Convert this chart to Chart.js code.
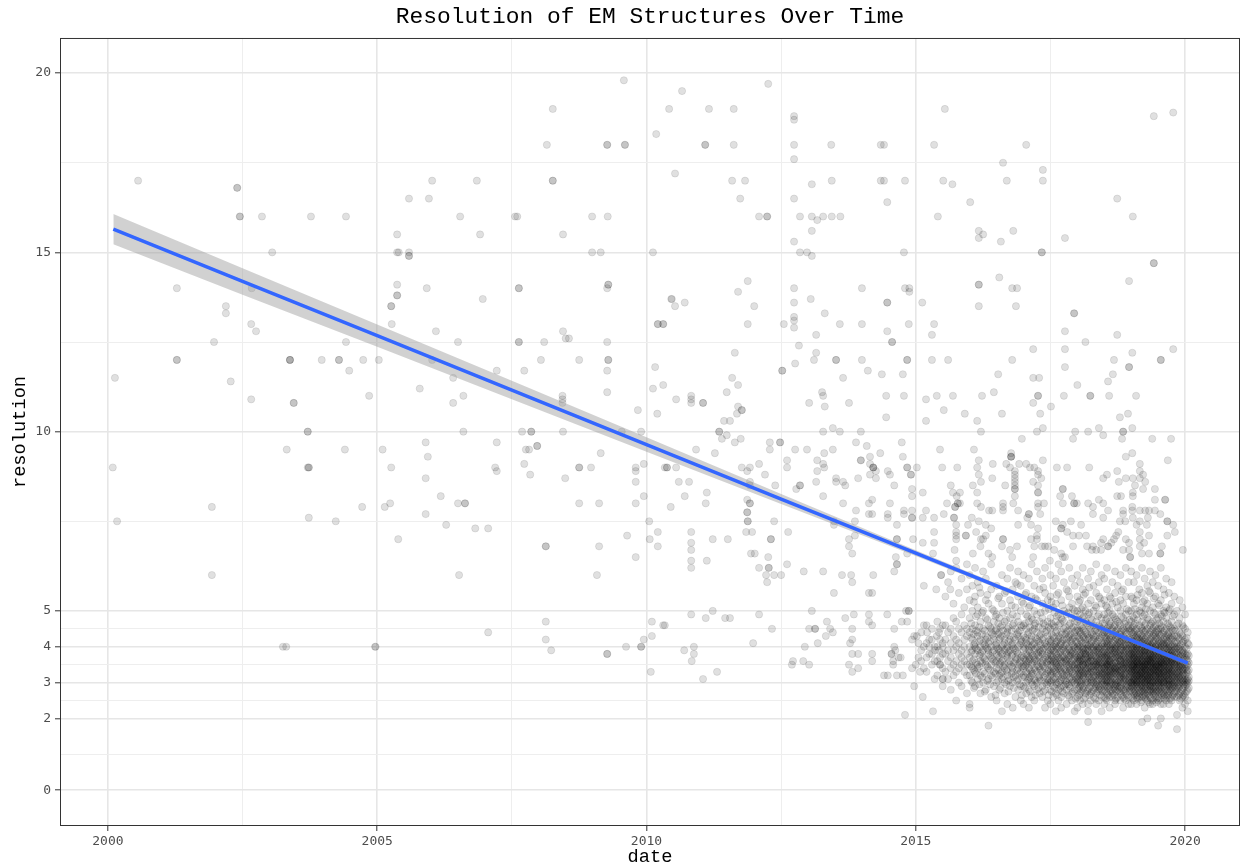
<!DOCTYPE html>
<html>
<head>
<meta charset="utf-8">
<title>Resolution of EM Structures Over Time</title>
<script src="https://cdn.jsdelivr.net/npm/chart.js@4.4.1/dist/chart.umd.min.js"></script>
<style>
  html, body { margin: 0; padding: 0; background: #fff; }
  #wrap { width: 1241px; height: 866px; }
</style>
</head>
<body>
<div id="wrap"><canvas id="emChart" width="1241" height="866"></canvas></div>
<script>
// axis breaks (ggplot style major + minor)
const xMajorTicks = [2000, 2005, 2010, 2015, 2020];
const xMinorTicks = [2002.5, 2007.5, 2012.5, 2017.5];
const yMajorTicks = [0, 2, 3, 4, 5, 10, 15, 20];
const yMinorTicks = [1, 2.5, 3.5, 4.5, 7.5, 12.5, 17.5];

// linear fit + confidence band
const fitDates = [2000.1, 2002.5, 2005, 2007.5, 2010, 2012.5, 2015, 2017.5, 2020.05];
const fitValues = [15.65, 14.19, 12.68, 11.16, 9.64, 8.12, 6.61, 5.09, 3.54];
const fitUpper = [16.07, 14.56, 12.99, 11.42, 9.84, 8.26, 6.69, 5.14, 3.61];
const fitLower = [15.23, 13.82, 12.37, 10.90, 9.44, 7.98, 6.53, 5.04, 3.47];

// structures 2000-2010: [date, resolution]
const earlyStructures = [
  [2000.09,9.0],[2000.13,11.5],[2000.17,7.5],[2000.56,17.0],[2001.28,14.0],[2001.28,12.0],[2001.28,12.0],
  [2001.93,7.9],[2001.93,6.0],[2001.97,12.5],[2002.19,13.5],[2002.19,13.3],[2002.28,11.4],[2002.40,16.8],
  [2002.40,16.8],[2002.45,16.0],[2002.45,16.0],[2002.66,13.0],[2002.66,10.9],[2002.67,14.0],[2002.75,12.8],
  [2002.86,16.0],[2003.05,15.0],[2003.25,4.0],[2003.31,4.0],[2003.38,12.0],[2003.38,12.0],[2003.38,12.0],
  [2003.32,9.5],[2003.45,10.8],[2003.45,10.8],[2003.71,10.0],[2003.71,10.0],[2003.71,9.0],[2003.73,9.0],
  [2003.73,9.0],[2003.73,7.6],[2003.77,16.0],[2003.97,12.0],[2004.29,12.0],[2004.29,12.0],[2004.48,11.7],
  [2004.42,16.0],[2004.40,9.5],[2004.23,7.5],[2004.42,12.5],[2004.72,7.9],[2004.74,12.0],[2004.85,11.0],
  [2004.96,4.0],[2005.03,12.0],
  [2005.37,15.0],[2005.40,15.0],[2005.59,15.0],[2005.59,14.9],[2005.59,14.9],[2005.37,15.5],[2005.37,14.1],
  [2005.37,13.8],[2005.37,13.8],[2005.59,16.5],[2005.96,16.5],[2005.92,14.0],[2006.02,17.0],[2006.85,17.0],
  [2006.54,16.0],[2006.91,15.5],[2006.96,13.7],[2007.56,16.0],[2007.60,16.0],[2007.63,14.0],[2007.63,14.0],
  [2008.26,19.0],[2008.15,18.0],[2008.26,17.0],[2008.26,17.0],[2008.45,15.5],[2008.99,16.0],[2008.99,15.0],
  [2009.15,15.0],[2009.27,18.0],[2009.27,18.0],[2009.28,16.0],[2009.29,14.1],[2009.29,14.1],[2009.27,14.0],
  [2009.58,19.8],[2009.60,18.0],[2009.60,18.0],[2010.12,15.0],[2010.18,18.3],
  [2005.26,13.5],[2005.26,13.5],[2005.27,13.0],[2006.09,12.8],[2006.50,12.5],[2007.63,12.5],[2007.63,12.5],
  [2008.10,12.5],[2008.45,12.8],[2008.50,12.6],[2008.56,12.6],[2009.27,12.5],[2009.29,12.0],[2009.29,12.0],
  [2006.02,12.0],[2008.04,12.0],[2008.75,12.0],[2007.22,11.7],[2007.73,11.7],[2009.27,11.7],[2010.16,11.8],
  [2006.41,11.5],[2005.79,11.2],[2009.27,11.1],[2010.12,11.2],[2006.60,11.0],[2006.41,10.8],[2008.44,11.0],
  [2008.44,10.9],[2008.44,10.8],[2009.84,10.6],[2010.20,10.5],[2006.60,10.0],[2007.69,10.0],[2007.86,10.0],
  [2007.86,10.0],[2008.45,10.0],[2009.54,10.0],[2009.90,10.0],[2005.10,9.5],[2005.90,9.7],[2007.22,9.7],
  [2007.76,9.5],[2007.82,9.5],[2007.97,9.6],[2007.97,9.6],[2005.94,9.3],[2009.15,9.4],[2005.26,9.0],
  [2007.19,9.0],[2007.22,8.9],[2007.73,9.1],[2008.75,9.0],[2008.75,9.0],[2008.97,9.0],[2009.80,9.0],
  [2009.80,8.9],[2009.95,9.1],[2007.84,8.8],[2005.90,8.7],[2008.49,8.7],[2009.80,8.6],[2006.18,8.2],
  [2009.95,8.2],[2005.24,8.0],[2006.50,8.0],[2006.63,8.0],[2006.63,8.0],[2008.75,8.0],[2009.12,8.0],
  [2009.80,8.0],[2005.14,7.9],[2005.90,7.7],[2010.05,7.5],[2006.28,7.4],[2006.82,7.3],[2007.06,7.3],
  [2005.39,7.0],[2009.64,7.1],[2010.06,7.0],[2008.13,6.8],[2008.13,6.8],[2009.12,6.8],[2009.80,6.5],
  [2010.21,7.2],[2010.21,6.8],[2010.21,13.0],[2010.21,13.0],
  [2004.97,4.0],[2006.52,6.0],[2009.08,6.0],[2007.06,4.4],[2008.13,4.7],[2008.13,4.2],[2008.23,3.9],
  [2009.27,3.8],[2009.27,3.8],[2009.62,4.0],[2009.90,4.0],[2009.90,4.0],[2009.95,4.2],[2010.10,4.7],
  [2010.10,4.3],[2010.08,3.3]
];

// structures 2010-2015.8: [date, resolution]
const middleStructures = [
  [2012.26,19.7],[2010.66,19.5],[2010.42,19.0],[2011.16,19.0],[2011.62,19.0],[2015.54,19.0],[2012.74,18.8],
  [2012.74,18.7],[2011.09,18.0],[2011.09,18.0],[2011.62,18.0],[2012.74,18.0],[2013.43,18.0],[2014.35,18.0],
  [2014.41,18.0],[2015.34,18.0],[2012.74,17.6],[2010.53,17.2],[2011.59,17.0],[2011.83,17.0],[2013.07,16.9],
  [2013.44,17.0],[2014.35,17.0],[2014.41,17.0],[2014.80,17.0],[2015.51,17.0],[2015.68,16.9],[2011.74,16.5],
  [2012.74,16.5],[2014.47,16.4],[2012.09,16.0],[2012.24,16.0],[2012.24,16.0],[2012.85,16.0],[2013.07,16.0],
  [2013.17,15.9],[2013.28,16.0],[2013.44,16.0],[2013.60,16.0],[2015.41,16.0],[2013.07,15.6],[2012.74,15.3],
  [2012.85,15.0],[2012.98,15.0],[2013.07,14.9],[2014.78,15.0],[2011.88,14.2],[2011.70,13.9],[2012.74,14.0],
  [2014.00,14.0],[2014.80,14.0],[2014.88,14.0],[2014.88,13.9],[2010.46,13.7],[2013.05,13.7],
  [2010.47,13.7],[2010.53,13.5],[2010.71,13.6],[2012.00,13.5],[2012.74,13.6],[2014.47,13.6],[2014.47,13.6],
  [2015.12,13.6],[2010.31,13.0],[2010.31,13.0],[2011.88,13.0],[2012.55,13.0],[2012.74,13.2],[2012.74,13.1],
  [2012.74,12.9],[2013.31,13.3],[2013.59,13.0],[2014.00,13.0],[2014.47,12.8],[2014.56,12.5],[2014.56,12.5],
  [2014.87,13.0],[2015.30,12.7],[2015.34,13.0],[2013.15,12.7],[2012.83,12.4],[2011.64,12.2],[2013.15,12.2],
  [2013.11,12.0],[2013.52,12.0],[2013.52,12.0],[2014.00,12.0],[2014.84,12.0],[2014.84,12.0],[2015.30,12.0],
  [2015.60,12.0],[2012.52,11.7],[2012.52,11.7],[2012.76,11.9],[2014.11,11.7],[2014.37,11.6],[2014.76,11.6],
  [2013.65,11.5],[2011.59,11.5],[2011.70,11.3],[2010.31,11.3],[2011.49,11.1],[2013.26,11.1],[2013.28,11.0],
  [2014.45,11.0],[2014.78,11.0],[2015.19,10.9],[2015.39,11.0],[2015.69,11.0],[2010.55,10.9],[2010.83,11.0],
  [2010.83,10.9],[2010.83,10.8],[2011.05,10.8],[2011.05,10.8],[2013.02,10.8],[2013.31,10.7],[2013.76,10.8],
  [2011.70,10.7],[2011.77,10.6],[2011.77,10.6],[2011.68,10.5],[2015.52,10.6],[2014.45,10.4],[2011.44,10.3],
  [2011.55,10.3],[2015.19,10.3],[2011.35,10.0],[2011.35,10.0],[2011.49,9.9],[2011.40,9.8],[2011.75,9.8],
  [2011.64,9.7],[2013.28,10.0],[2013.46,10.1],[2013.59,10.0],[2013.98,10.0],[2012.29,9.7],[2012.29,9.5],
  [2012.48,9.7],[2012.48,9.7],[2012.76,9.5],[2012.98,9.5],[2013.30,9.4],[2013.46,9.5],[2013.89,9.7],
  [2014.09,9.6],[2014.34,9.4],[2014.74,9.7],[2014.76,9.3],[2015.45,9.5],[2010.92,9.5],[2011.27,9.4],
  [2014.15,9.3],[2012.61,9.2],[2012.61,9.0],[2013.17,9.2],[2013.17,8.9],[2013.28,9.1],[2013.30,9.0],
  [2012.09,9.1],[2011.77,9.0],[2011.92,9.0],[2011.87,8.9],[2010.34,9.0],[2010.38,9.0],[2010.38,9.0],
  [2010.55,9.0],[2013.98,9.2],[2013.98,9.2],[2014.21,9.0],[2014.21,9.0],[2014.21,9.0],[2014.15,9.1],
  [2014.15,8.8],[2014.26,8.9],[2014.26,8.7],[2014.48,8.9],[2014.52,8.8],[2014.84,9.0],[2014.84,9.0],
  [2014.91,8.8],[2014.91,8.8],[2015.02,9.0],[2015.49,9.0],[2015.77,9.0],[2012.20,8.8],[2013.52,8.7],
  [2013.52,8.6],[2013.65,8.6],[2013.69,8.5],[2013.15,8.6],[2013.93,8.7],[2010.60,8.6],[2010.79,8.6],
  [2011.92,8.6],[2011.92,8.5],[2012.39,8.5],[2012.85,8.5],[2012.85,8.5],[2012.78,8.4],[2014.60,8.5],
  [2014.93,8.4],[2014.93,8.2],[2015.65,8.5],[2011.12,8.3],[2011.10,8.0],[2010.71,8.2],[2013.28,8.2],
  [2015.13,8.3],[2015.69,8.3],[2015.76,8.2],[2015.78,8.0],[2015.78,8.0],[2011.87,8.1],[2011.92,8.0],
  [2011.92,8.0],[2011.87,7.75],[2011.87,7.75],[2011.88,7.5],[2011.88,7.5],[2011.85,7.2],[2011.96,7.2],
  [2010.45,7.9],[2013.65,8.0],[2014.13,8.0],[2014.19,8.1],[2014.52,8.0],[2013.89,7.8],[2014.13,7.7],
  [2014.19,7.7],[2014.48,7.7],[2014.48,7.6],[2014.78,7.7],[2014.78,7.8],[2014.93,7.8],[2014.93,7.6],
  [2014.93,7.6],[2015.19,7.8],[2015.58,8.0],[2015.52,7.7],[2015.73,7.9],[2015.73,7.9],[2015.13,7.6],
  [2015.34,7.6],[2015.71,7.6],[2015.71,7.6],[2015.75,7.4],[2015.75,7.2],[2015.75,7.1],[2012.37,7.5],
  [2013.48,7.5],[2013.48,7.4],[2013.87,7.5],[2014.65,7.4],[2012.63,7.2],[2010.83,7.2],[2010.83,6.9],
  [2010.83,6.7],[2010.83,6.4],[2011.23,7.0],[2011.51,7.0],[2012.31,7.0],[2012.31,7.0],[2013.76,7.0],
  [2013.76,6.8],[2013.82,6.6],[2013.87,7.1],[2014.65,7.0],[2014.65,7.0],[2014.95,7.0],[2015.13,6.9],
  [2015.34,7.2],[2015.34,6.9],[2015.75,7.0],[2015.72,6.7],[2011.94,6.6],[2012.01,6.6],[2012.26,6.5],
  [2011.12,6.4],[2014.63,6.5],[2014.84,6.6],[2015.32,6.6],[2015.75,6.4],
  [2010.83,6.2],[2012.09,6.2],[2012.27,6.2],[2012.27,6.2],[2012.22,6.0],[2012.24,5.8],[2012.37,6.0],
  [2012.50,6.0],[2012.61,6.3],[2012.92,6.1],[2013.28,6.1],[2013.63,6.0],[2013.80,6.0],[2013.82,5.8],
  [2014.21,6.0],[2014.60,6.1],[2014.65,6.3],[2014.65,6.3],[2013.48,5.5],[2014.13,5.5],[2014.19,5.5],
  [2015.15,5.7],[2015.38,5.6],[2015.47,6.0],[2015.47,6.0],[2015.64,5.6],[2010.34,4.6],[2010.31,4.6],
  [2010.83,4.9],[2011.23,5.0],[2011.10,4.8],[2011.46,4.8],[2011.55,4.8],[2012.09,4.9],[2012.33,4.5],
  [2013.07,5.0],[2013.02,4.5],[2013.13,4.5],[2013.13,4.5],[2013.35,4.7],[2013.41,4.5],[2013.46,4.4],
  [2013.33,4.3],[2013.69,4.8],[2013.85,4.9],[2013.82,4.5],[2014.13,4.9],[2014.13,4.7],[2014.19,4.6],
  [2014.47,4.9],[2014.60,4.5],[2014.74,4.7],[2014.84,4.7],[2014.82,5.0],[2014.87,5.0],[2014.87,5.0],
  [2011.98,4.1],[2013.18,4.1],[2013.78,4.1],[2013.82,4.2],[2010.70,3.9],[2010.88,4.0],[2010.88,3.8],
  [2010.84,3.6],[2012.94,4.0],[2012.72,3.6],[2012.70,3.5],[2012.91,3.6],[2013.02,3.5],[2011.31,3.3],
  [2011.05,3.1],[2013.82,3.8],[2013.93,3.8],[2013.76,3.5],[2013.82,3.3],[2013.93,3.4],[2014.19,3.8],
  [2014.19,3.6],[2014.41,3.2],[2014.48,3.2],[2014.55,3.8],[2014.55,3.8],[2014.60,4.0],[2014.62,3.9],
  [2014.58,3.6],[2014.68,3.7],[2014.72,3.7],[2014.58,3.5],[2014.65,3.2],[2014.76,3.2],[2014.80,2.1],
  [2014.97,2.9],[2015.13,2.6],[2015.32,2.2],[2014.93,3.4],[2015.00,3.5],[2015.08,3.3],[2014.97,4.3],
  [2015.02,4.3],[2014.93,4.2],[2015.21,4.4],[2015.25,4.0],[2015.39,4.3],[2015.43,4.4],[2015.45,3.5],
  [2015.45,3.5],[2015.50,3.1],[2015.50,3.1],[2015.50,2.9],[2015.36,3.9],[2015.43,3.9],[2015.50,4.1]
];

// structures 2015.8-2020 above ~6.4 A: [date, resolution]
const recentLowRes = [
  [2019.42,18.8],[2019.78,18.9],[2017.05,18.0],[2016.62,17.5],[2017.36,17.3],[2016.69,17.0],[2017.36,17.0],
  [2016.01,16.4],[2018.74,16.5],[2019.03,16.0],[2016.17,15.6],[2016.25,15.5],[2016.17,15.4],[2016.81,15.6],
  [2016.58,15.3],[2017.77,15.4],[2017.34,15.0],[2017.34,15.0],[2019.42,14.7],[2019.42,14.7],[2016.55,14.3],
  [2016.17,14.1],[2016.17,14.1],[2016.79,14.0],[2016.88,14.0],[2018.96,14.2],
  [2016.17,13.5],[2016.86,13.5],[2017.94,13.3],[2017.94,13.3],[2017.77,12.8],[2018.74,12.7],[2018.15,12.5],
  [2017.18,12.3],[2017.77,12.3],[2019.78,12.3],[2016.79,12.0],[2018.68,12.0],[2019.02,12.2],[2019.55,12.0],
  [2019.55,12.0],[2018.96,11.8],[2018.96,11.8],[2017.77,11.8],[2018.66,11.6],[2018.57,11.4],[2016.53,11.6],
  [2017.18,11.5],[2017.29,11.5],[2018.00,11.3],[2016.23,11.0],[2016.45,11.1],[2017.27,11.0],[2017.27,11.0],
  [2017.75,11.0],[2018.24,11.0],[2018.24,11.0],[2018.59,11.0],[2019.09,11.0],[2017.18,10.8],[2017.31,10.5],
  [2017.51,10.7],[2015.91,10.5],[2016.60,10.5],[2016.14,10.3],[2018.79,10.4],[2018.94,10.5],[2016.21,10.0],
  [2017.36,10.1],[2017.25,10.0],[2017.96,10.0],[2017.92,9.8],[2018.20,10.0],[2018.40,10.1],[2018.48,9.9],
  [2018.85,10.0],[2018.85,10.0],[2018.83,9.8],[2019.02,10.1],[2019.39,9.8],[2019.74,9.8],[2016.97,9.8],
  [2016.08,9.5],[2016.77,9.3],[2016.77,9.3],[2016.77,9.3],[2016.17,9.2],[2016.77,9.4],[2018.90,9.3],
  [2019.02,9.4],[2019.68,9.2],[2017.36,9.2],[2016.43,9.1],[2016.68,9.1],[2016.75,9.0],[2016.92,9.1],
  [2017.05,9.1],[2017.12,9.0],[2017.20,9.0],[2016.14,9.0],[2017.62,9.0],[2017.81,9.0],[2018.22,9.0],
  [2019.16,9.1],[2018.74,8.9],[2018.55,8.8],[2018.48,8.7],[2019.16,8.9],[2019.22,8.8],[2019.16,8.7],
  [2019.26,8.6],[2016.84,8.9],[2016.84,8.8],[2016.84,8.7],[2016.84,8.6],[2016.84,8.5],[2016.84,8.4],
  [2016.84,8.4],[2017.27,8.9],[2017.27,8.8],[2017.33,8.7],[2017.18,8.6],[2017.27,8.5],[2017.27,8.3],
  [2017.27,8.3],[2016.42,8.7],[2016.17,8.8],[2016.21,8.6],[2016.66,8.5],[2016.06,8.5],[2015.82,8.3],
  [2018.90,8.7],[2019.03,8.7],[2019.07,8.5],[2019.03,8.3],[2019.03,8.2],[2018.77,8.6],[2019.22,8.4],
  [2019.44,8.4],[2019.44,8.1],[2019.63,8.1],[2019.63,8.1],[2016.14,8.3],[2016.84,8.2],[2016.81,8.0],
  [2016.90,7.8],[2016.62,8.0],[2016.62,7.9],[2016.62,7.8],[2017.27,8.0],[2017.27,7.9],[2017.31,7.7],
  [2017.38,8.0],[2017.73,8.4],[2017.73,8.4],[2017.68,8.2],[2017.73,8.0],[2017.90,8.2],[2017.94,8.0],
  [2017.94,8.0],[2017.99,8.0],[2018.20,8.0],[2018.29,7.9],[2018.29,7.7],[2018.40,8.1],[2018.48,8.0],
  [2018.74,8.2],[2018.81,8.2],[2015.82,8.0],[2016.14,8.0],[2016.21,7.9],[2016.36,7.8],[2016.42,7.8],
  [2017.10,7.7],[2017.10,7.7],[2017.07,7.6],[2016.04,7.6],[2016.17,7.5],[2018.57,7.8],[2018.48,7.6],
  [2018.85,7.8],[2018.85,7.7],[2019.02,7.9],[2019.02,7.8],[2018.79,7.5],[2018.89,7.5],[2019.16,7.8],
  [2019.26,7.8],[2019.33,7.8],[2019.44,7.8],[2019.54,7.7],[2019.67,7.5],[2019.67,7.5],[2019.78,7.4],
  [2019.03,7.6],[2019.16,7.5],[2019.10,7.4],[2019.16,7.2],[2019.31,7.6],[2019.29,7.4],[2019.33,7.1],
  [2017.60,7.5],[2017.88,7.5],[2016.90,7.4],[2017.14,7.4],[2017.70,7.3],[2017.70,7.3],[2017.81,7.2],
  [2017.92,7.1],[2018.03,7.1],[2018.16,7.1],[2017.73,7.4],[2018.07,7.4],[2017.27,7.3],[2017.25,7.1],
  [2017.25,7.0],[2015.97,7.4],[2016.30,7.4],[2016.40,7.3],[2016.12,7.2],[2016.25,7.0],[2016.30,7.1],
  [2016.21,7.0],[2015.93,7.1],[2015.93,7.1],[2016.62,7.0],[2016.62,7.0],[2016.60,6.8],[2016.88,6.8],
  [2016.75,6.7],[2017.14,7.0],[2017.20,6.8],[2017.34,6.8],[2017.40,6.8],[2017.46,6.8],[2017.60,7.0],
  [2017.57,6.7],[2017.70,6.6],[2017.73,6.5],[2017.77,6.5],[2018.76,7.2],[2018.72,7.1],[2018.68,7.0],
  [2018.63,6.9],[2018.57,6.8],[2018.57,6.8],[2018.48,7.0],[2018.44,6.9],[2018.90,7.0],[2018.96,6.9],
  [2018.96,6.7],[2019.16,7.0],[2019.16,6.8],[2019.24,6.9],[2019.67,7.1],[2019.81,7.2],[2019.57,6.8],
  [2019.96,6.7],[2018.18,6.8],[2018.29,6.8],[2018.35,6.7],[2018.27,6.7],[2017.92,6.8],[2018.44,6.7],
  [2018.85,6.7],[2018.98,6.5],[2018.98,6.5],[2019.20,6.6],[2019.33,6.6],[2019.54,6.6],[2019.54,6.6],
  [2016.20,6.8],[2016.35,6.6],[2016.42,6.5],[2016.06,6.6],[2016.79,6.5],[2017.18,6.5],[2017.49,6.4]
];

// release-date columns of the crowded 2015-2020 region: [date, resolutions...]
const crowdedColumns = [
  [2015.05,3.7,4.1],[2015.10,3.6,3.9,4.4],[2015.15,3.4,4.0,4.6],[2015.20,3.3,3.7,4.1,4.6],[2015.25,3.8,4.2],
  [2015.30,3.5,3.8,4.2,4.5],[2015.35,3.1,3.6,4.0],[2015.40,3.2,3.6,4.0,4.7],[2015.45,3.7,4.2,4.5],
  [2015.50,3.4,3.8,4.0,4.6],[2015.55,3.3,3.8,4.2,4.6,5.4],[2015.60,3.1,3.6,3.9,4.4,5.8],
  [2015.65,2.8,3.4,3.7,4.1,4.5,6.1],[2015.70,3.2,3.5,3.9,4.3,4.8,5.2],[2015.75,2.5,3.3,3.6,4.0,4.2,4.7,6.2],
  [2015.80,3.0,3.4,3.8,4.1,4.5,5.5],[2015.85,2.9,3.5,3.7,3.9,4.4,4.9,5.9],[2015.90,3.3,3.6,4.0,4.2,4.6,5.1],
  [2015.95,2.7,3.2,3.5,3.8,4.3,4.5,5.6,6.3],
  [2016.00,2.4,2.3,3.2,3.5,3.7,4.0,4.4,4.8,5.3,6.0],[2016.05,3.0,3.4,3.6,3.9,4.2,4.5,5.0,5.7],
  [2016.10,2.9,3.3,3.8,4.0,4.1,4.6,5.4,6.2],[2016.15,3.1,3.4,3.5,3.9,4.3,4.4,4.9,5.1,5.8],
  [2016.20,2.7,3.2,3.6,3.8,4.0,4.2,4.7,5.5],[2016.25,3.0,3.3,3.7,3.9,4.1,4.5,5.0,6.1],
  [2016.30,2.8,3.5,3.6,4.0,4.2,4.3,4.8,5.3,5.9],[2016.35,1.8,3.1,3.4,3.8,3.9,4.1,4.6,5.2],
  [2016.40,2.6,3.2,3.5,3.7,4.0,4.4,4.5,5.6,6.3],[2016.45,2.9,3.3,3.6,3.9,4.2,4.3,4.7,5.0],
  [2016.50,2.5,3.0,3.4,3.6,3.8,4.0,4.1,4.5,4.9,5.7],[2016.55,2.8,3.2,3.5,3.7,3.9,4.2,4.4,4.8,5.4],
  [2016.60,2.2,3.1,3.3,3.6,3.8,4.0,4.3,4.6,5.2,6.0],[2016.65,2.7,3.0,3.4,3.5,3.9,4.1,4.2,4.7,5.5],
  [2016.70,2.4,3.2,3.3,3.7,3.8,4.0,4.4,4.5,5.0,5.9],[2016.75,2.9,3.1,3.5,3.6,3.9,4.2,4.3,4.8,5.3,6.2],
  [2016.80,2.3,3.0,3.3,3.4,3.8,4.0,4.1,4.6,4.9,5.6],[2016.85,2.6,3.2,3.6,3.7,3.9,4.2,4.5,5.1,5.8],
  [2016.90,2.8,3.1,3.4,3.5,3.8,4.0,4.3,4.4,4.7,5.4,6.1],[2016.95,2.5,2.9,3.3,3.6,3.7,4.1,4.2,4.6,5.0,5.7],
  [2017.00,2.4,2.9,3.2,3.4,3.5,3.7,3.9,4.0,4.3,4.6,5.2,6.0],[2017.05,2.7,3.0,3.3,3.5,3.6,3.8,4.1,4.2,4.5,4.9,5.5],
  [2017.10,2.3,2.8,3.1,3.4,3.6,3.7,3.9,4.0,4.4,4.7,5.1,5.9],[2017.15,2.6,3.0,3.2,3.3,3.5,3.8,4.0,4.2,4.3,4.8,5.4,6.3],
  [2017.20,2.5,2.9,3.1,3.4,3.6,3.7,3.9,4.1,4.5,4.6,5.0,5.7],[2017.25,2.8,3.0,3.3,3.5,3.6,3.8,4.0,4.2,4.4,4.9,5.3,6.1],
  [2017.30,2.7,3.1,3.2,3.4,3.7,3.9,4.1,4.3,4.7,5.6],[2017.35,2.6,2.9,3.3,3.5,3.6,3.8,3.9,4.2,4.5,4.8,5.2,5.9],
  [2017.40,2.3,2.8,3.0,3.2,3.4,3.7,4.0,4.1,4.4,4.6,5.0,5.5,6.2],[2017.45,2.5,3.0,3.1,3.3,3.5,3.6,3.8,4.0,4.3,4.7,5.3],
  [2017.50,2.4,2.8,3.0,3.2,3.3,3.5,3.6,3.8,3.9,4.1,4.2,4.5,4.8,5.4,6.0],
  [2017.55,2.6,2.9,3.1,3.3,3.4,3.6,3.7,3.9,4.0,4.3,4.6,5.1,5.7],
  [2017.60,2.2,2.7,3.0,3.1,3.3,3.5,3.6,3.8,4.0,4.1,4.4,4.7,5.2,5.9],
  [2017.65,2.5,2.8,3.0,3.2,3.4,3.5,3.7,3.8,4.0,4.2,4.3,4.6,4.9,5.5,6.3],
  [2017.70,2.3,2.6,2.9,3.1,3.3,3.4,3.6,3.7,3.9,4.1,4.4,4.8,5.3,6.1],
  [2017.75,2.7,2.9,3.1,3.2,3.4,3.6,3.7,3.9,4.0,4.2,4.5,4.7,5.0,5.8],
  [2017.80,2.4,2.8,3.0,3.2,3.3,3.5,3.6,3.8,4.1,4.2,4.4,4.9,5.6],
  [2017.85,2.6,2.9,3.1,3.3,3.4,3.5,3.7,3.9,4.0,4.3,4.6,5.1,5.4,6.2],
  [2017.90,2.5,2.7,3.0,3.1,3.3,3.5,3.6,3.8,3.9,4.1,4.2,4.5,4.8,5.2,5.9],
  [2017.95,2.2,2.8,3.0,3.2,3.4,3.5,3.7,3.8,4.0,4.3,4.4,4.7,5.0,5.7],
  [2018.00,2.3,2.6,2.8,3.0,3.1,3.2,3.4,3.4,3.5,3.6,3.7,3.9,4.0,4.1,4.3,4.5,4.7,5.0,5.4,6.0],
  [2018.05,2.5,2.7,2.9,3.0,3.2,3.3,3.4,3.6,3.6,3.7,3.8,4.0,4.2,4.4,4.6,4.9,5.3,5.8],
  [2018.10,2.4,2.8,2.9,3.1,3.2,3.3,3.5,3.5,3.6,3.8,3.9,4.0,4.1,4.3,4.5,4.8,5.1,5.6,6.2],
  [2018.15,2.6,2.7,3.0,3.1,3.3,3.4,3.5,3.7,3.8,3.8,3.9,4.1,4.2,4.4,4.7,5.0,5.5],
  [2018.20,1.9,2.2,2.4,2.8,3.0,3.2,3.3,3.4,3.5,3.6,3.7,3.9,4.0,4.2,4.3,4.6,4.9,5.2,5.9],
  [2018.25,2.5,2.7,2.9,3.0,3.1,3.3,3.4,3.6,3.6,3.7,3.8,4.0,4.1,4.4,4.5,4.8,5.3,6.1],
  [2018.30,2.6,2.8,3.0,3.1,3.2,3.3,3.4,3.5,3.6,3.8,3.9,4.0,4.2,4.3,4.6,5.0,5.7],
  [2018.35,2.4,2.7,2.9,3.0,3.2,3.3,3.5,3.5,3.6,3.7,3.9,4.0,4.1,4.3,4.5,4.7,5.1,5.5,6.3],
  [2018.40,2.5,2.8,2.9,3.1,3.2,3.3,3.4,3.5,3.6,3.7,3.8,3.9,4.0,4.2,4.4,4.6,4.9,5.4,5.8],
  [2018.45,2.2,2.6,2.8,3.0,3.1,3.2,3.3,3.4,3.5,3.7,3.8,4.0,4.1,4.3,4.5,4.8,5.2,6.0],
  [2018.50,2.4,2.6,2.8,2.9,3.0,3.1,3.2,3.3,3.4,3.4,3.5,3.6,3.7,3.8,3.9,4.0,4.1,4.3,4.4,4.6,4.9,5.3,5.9],
  [2018.55,2.5,2.7,2.9,3.0,3.1,3.2,3.3,3.5,3.5,3.6,3.7,3.8,4.0,4.1,4.2,4.4,4.5,4.8,5.1,5.6,6.2],
  [2018.60,2.3,2.6,2.8,2.9,3.0,3.2,3.3,3.4,3.5,3.6,3.6,3.8,3.9,4.0,4.2,4.3,4.6,4.7,5.0,5.4],
  [2018.65,2.6,2.7,2.8,3.0,3.1,3.2,3.3,3.4,3.5,3.7,3.8,3.9,4.0,4.1,4.3,4.5,4.9,5.2,5.8],
  [2018.70,2.4,2.5,2.8,2.9,3.0,3.1,3.3,3.4,3.4,3.6,3.7,3.8,3.9,4.0,4.2,4.4,4.6,4.8,5.5,6.1],
  [2018.75,2.6,2.8,2.9,3.0,3.2,3.3,3.4,3.5,3.6,3.7,3.8,4.0,4.1,4.2,4.3,4.5,4.7,5.1,5.7],
  [2018.80,2.5,2.7,2.9,3.0,3.1,3.2,3.3,3.5,3.6,3.6,3.8,3.9,4.0,4.1,4.4,4.6,5.0,5.3,6.0],
  [2018.85,2.3,2.6,2.8,3.0,3.1,3.2,3.4,3.4,3.5,3.7,3.8,3.9,4.0,4.2,4.3,4.5,4.8,5.2,5.6],
  [2018.90,2.5,2.7,2.8,2.9,3.1,3.2,3.3,3.4,3.5,3.6,3.7,3.9,4.0,4.1,4.2,4.4,4.7,4.9,5.4,6.2],
  [2018.95,2.4,2.6,2.9,3.0,3.1,3.3,3.4,3.5,3.6,3.7,3.8,3.9,4.1,4.2,4.5,4.6,5.0,5.8],
  [2019.00,2.4,2.6,2.8,2.9,3.0,3.0,3.1,3.2,3.3,3.3,3.4,3.5,3.5,3.6,3.7,3.8,3.8,3.9,4.0,4.1,4.2,4.4,4.5,4.7,5.0,5.4,6.1],
  [2019.05,2.5,2.7,2.8,2.9,3.0,3.1,3.1,3.2,3.3,3.4,3.5,3.5,3.6,3.7,3.7,3.8,3.9,4.0,4.1,4.3,4.4,4.6,4.8,5.2,5.8],
  [2019.10,2.4,2.6,2.7,2.9,3.0,3.0,3.1,3.2,3.2,3.3,3.4,3.4,3.5,3.6,3.6,3.7,3.8,3.9,4.0,4.0,4.2,4.3,4.5,4.9,5.3,6.0],
  [2019.15,2.6,2.7,2.8,2.9,3.0,3.1,3.2,3.2,3.3,3.4,3.5,3.5,3.6,3.7,3.8,3.8,3.9,4.0,4.1,4.2,4.4,4.6,5.0,5.6],
  [2019.20,1.9,2.5,2.6,2.8,2.9,3.0,3.1,3.1,3.2,3.3,3.3,3.4,3.5,3.6,3.6,3.7,3.8,3.9,4.0,4.1,4.2,4.3,4.5,4.7,5.1,5.5,6.2],
  [2019.25,2.3,2.6,2.7,2.8,2.9,3.0,3.0,3.1,3.2,3.3,3.4,3.4,3.5,3.5,3.6,3.7,3.8,3.9,3.9,4.0,4.2,4.4,4.6,4.9,5.3,5.9],
  [2019.30,2.0,2.5,2.7,2.8,2.9,3.0,3.1,3.1,3.2,3.2,3.3,3.4,3.5,3.5,3.6,3.6,3.7,3.8,3.9,4.0,4.0,4.1,4.3,4.5,4.8,5.2,5.7],
  [2019.35,2.4,2.6,2.8,2.9,2.9,3.0,3.1,3.2,3.3,3.3,3.4,3.5,3.6,3.6,3.7,3.8,3.8,3.9,4.0,4.1,4.2,4.4,4.6,5.0,5.5,6.1],
  [2019.40,2.4,2.5,2.7,2.8,2.9,3.0,3.0,3.1,3.2,3.3,3.4,3.4,3.5,3.6,3.7,3.7,3.8,3.9,4.0,4.1,4.3,4.5,4.7,5.1,5.8],
  [2019.45,2.6,2.7,2.8,2.9,3.0,3.1,3.2,3.2,3.3,3.4,3.5,3.5,3.6,3.7,3.8,3.9,4.0,4.0,4.2,4.3,4.4,4.6,4.9,5.4,6.0],
  [2019.50,1.8,2.5,2.6,2.8,2.9,3.0,3.0,3.1,3.2,3.3,3.3,3.4,3.5,3.5,3.6,3.7,3.8,3.9,4.0,4.1,4.2,4.4,4.5,4.8,5.2,5.7],
  [2019.55,2.0,2.4,2.7,2.8,2.9,3.0,3.1,3.1,3.2,3.3,3.4,3.4,3.5,3.6,3.6,3.7,3.8,3.9,4.0,4.1,4.3,4.5,4.6,4.9,5.3,6.2],
  [2019.60,2.4,2.6,2.7,2.9,3.0,3.0,3.1,3.2,3.3,3.3,3.4,3.5,3.5,3.6,3.7,3.8,3.8,4.0,4.1,4.2,4.4,4.7,5.0,5.6],
  [2019.65,2.5,2.6,2.8,2.9,3.0,3.1,3.2,3.2,3.3,3.4,3.5,3.6,3.6,3.7,3.8,3.9,4.0,4.1,4.2,4.3,4.5,4.8,5.1,5.9],
  [2019.70,2.4,2.7,2.8,2.9,3.0,3.1,3.1,3.2,3.3,3.4,3.4,3.5,3.6,3.7,3.8,3.9,4.0,4.1,4.3,4.4,4.6,5.0,5.5],
  [2019.75,2.5,2.6,2.8,2.9,3.0,3.1,3.2,3.3,3.3,3.4,3.5,3.6,3.6,3.7,3.8,3.9,4.0,4.2,4.3,4.5,4.7,5.2,5.8],
  [2019.80,2.6,2.7,2.9,3.0,3.1,3.2,3.3,3.4,3.5,3.5,3.6,3.7,3.8,3.9,4.0,4.1,4.3,4.5,4.9,5.4],
  [2019.85,1.7,2.1,2.6,2.8,2.9,3.0,3.1,3.2,3.3,3.4,3.5,3.6,3.7,3.8,4.0,4.1,4.3,4.6,5.0],
  [2019.90,2.5,2.7,2.9,3.0,3.1,3.2,3.3,3.4,3.5,3.6,3.7,3.9,4.0,4.2,4.4,4.8,5.3],
  [2019.95,2.3,2.6,2.8,3.0,3.1,3.2,3.3,3.4,3.5,3.6,3.8,3.9,4.1,4.3,4.6,5.1],
  [2020.00,2.4,2.6,2.7,2.9,3.0,3.1,3.2,3.4,3.5,3.7,3.8,4.0,4.2,4.5,4.9],
  [2020.05,2.2,2.5,2.8,3.0,3.1,3.3,3.5,3.6,3.8,4.1,4.4]
];

// second batch of release dates in between, same region
const crowdedColumnsB = [
  [2016.03,3.05,3.45,3.85,4.25,4.65],[2016.08,2.85,3.35,3.65,4.05,4.35,5.25],[2016.12,3.25,3.55,3.95,4.45,4.85],
  [2016.18,2.95,3.45,3.75,4.15,4.55,5.65],[2016.23,3.15,3.55,3.85,4.35,4.95],[2016.28,2.75,3.25,3.65,4.05,4.45],
  [2016.33,3.05,3.45,3.95,4.25,4.75,5.45],[2016.38,2.95,3.35,3.75,4.15,4.55],[2016.42,3.15,3.65,3.85,4.35,5.05],
  [2016.48,2.65,3.25,3.55,4.05,4.45,4.85],[2016.53,3.05,3.35,3.75,3.95,4.35,4.65,5.35],[2016.57,2.85,3.25,3.55,3.85,4.25,4.55],
  [2016.62,3.15,3.45,3.65,4.05,4.45,4.95],[2016.68,2.95,3.35,3.75,3.95,4.35,4.75,5.55],[2016.72,2.75,3.05,3.55,3.85,4.15,4.55],
  [2016.78,3.25,3.45,3.75,4.05,4.45,5.15],[2016.82,2.85,3.15,3.55,3.95,4.25,4.65],[2016.88,3.05,3.35,3.65,3.85,4.35,4.85,5.75],
  [2016.93,2.95,3.25,3.55,4.05,4.45],[2016.97,2.65,3.15,3.45,3.75,4.15,4.55,5.25],
  [2017.03,2.85,3.15,3.45,3.65,3.95,4.25,4.65,5.45],[2017.08,3.05,3.25,3.55,3.75,4.05,4.35,4.85],
  [2017.12,2.75,3.15,3.35,3.65,3.85,4.15,4.55,5.15],[2017.17,2.95,3.25,3.55,3.75,4.05,4.45,4.75],
  [2017.22,2.65,3.05,3.35,3.65,3.95,4.25,4.65,5.35],[2017.28,2.85,3.15,3.45,3.75,3.85,4.15,4.55],
  [2017.32,3.05,3.35,3.55,3.85,4.05,4.35,4.95],[2017.37,2.75,3.15,3.45,3.65,3.95,4.25,4.65,5.65],
  [2017.43,2.95,3.25,3.55,3.75,4.05,4.45],[2017.47,2.65,3.05,3.35,3.65,3.85,4.15,4.55,5.05],
  [2017.52,2.75,3.05,3.25,3.45,3.65,3.75,3.95,4.15,4.35,4.65,5.25],
  [2017.58,2.85,3.15,3.35,3.55,3.65,3.85,4.05,4.25,4.55,4.95],
  [2017.62,2.65,2.95,3.25,3.45,3.55,3.75,3.95,4.15,4.45,4.85,5.45],
  [2017.68,2.85,3.05,3.35,3.45,3.65,3.85,4.05,4.25,4.65],
  [2017.72,2.75,3.15,3.25,3.55,3.75,3.95,4.15,4.35,4.75,5.15],
  [2017.78,2.95,3.05,3.35,3.55,3.65,3.85,4.05,4.35,4.55],
  [2017.83,2.65,2.95,3.25,3.45,3.65,3.75,3.95,4.25,4.45,4.95,5.55],
  [2017.87,2.85,3.15,3.35,3.55,3.75,3.85,4.15,4.35,4.65],
  [2017.92,2.75,3.05,3.25,3.45,3.65,3.85,4.05,4.25,4.55,5.05],
  [2017.97,2.55,2.95,3.15,3.35,3.55,3.75,3.95,4.15,4.45,4.85],
  [2018.03,2.65,2.85,3.05,3.15,3.25,3.35,3.55,3.65,3.75,3.95,4.05,4.25,4.45,4.75,5.25],
  [2018.07,2.75,2.95,3.05,3.25,3.35,3.45,3.65,3.75,3.85,4.15,4.35,4.55,5.05],
  [2018.12,2.55,2.85,3.15,3.25,3.45,3.55,3.65,3.85,3.95,4.25,4.45,4.85,5.45],
  [2018.18,2.75,2.95,3.05,3.25,3.35,3.55,3.65,3.75,3.95,4.05,4.35,4.65],
  [2018.22,2.65,2.85,3.15,3.25,3.45,3.55,3.75,3.85,4.05,4.25,4.55,4.95,5.65],
  [2018.27,2.75,3.05,3.15,3.35,3.45,3.65,3.75,3.95,4.15,4.35,4.75],
  [2018.33,2.55,2.85,2.95,3.15,3.35,3.45,3.55,3.75,3.85,4.05,4.25,4.45,5.15],
  [2018.38,2.75,2.95,3.05,3.25,3.45,3.55,3.65,3.85,3.95,4.15,4.45,4.85],
  [2018.42,2.65,2.85,3.15,3.25,3.35,3.55,3.65,3.75,3.95,4.25,4.55,5.35],
  [2018.47,2.75,2.95,3.05,3.25,3.45,3.55,3.75,3.85,4.05,4.35,4.65],
  [2018.53,2.55,2.75,2.95,3.05,3.15,3.25,3.35,3.45,3.55,3.65,3.75,3.85,3.95,4.15,4.25,4.45,4.75,5.15],
  [2018.57,2.65,2.85,3.05,3.15,3.25,3.35,3.45,3.55,3.65,3.75,3.85,4.05,4.15,4.35,4.55,4.95],
  [2018.62,2.75,2.95,3.05,3.15,3.25,3.35,3.45,3.55,3.65,3.75,3.95,4.05,4.25,4.45,4.65,5.35],
  [2018.68,2.65,2.85,2.95,3.15,3.25,3.35,3.45,3.55,3.65,3.85,3.95,4.15,4.35,4.55,4.85],
  [2018.72,2.55,2.75,2.95,3.05,3.25,3.35,3.45,3.55,3.75,3.85,3.95,4.05,4.25,4.45,4.75,5.25],
  [2018.78,2.75,2.85,3.05,3.15,3.25,3.35,3.45,3.65,3.75,3.85,4.05,4.15,4.35,4.65],
  [2018.82,2.65,2.85,2.95,3.15,3.25,3.35,3.45,3.55,3.65,3.75,3.95,4.15,4.25,4.45,4.85,5.55],
  [2018.87,2.55,2.75,3.05,3.15,3.25,3.45,3.55,3.65,3.75,3.85,4.05,4.25,4.45,4.65],
  [2018.92,2.65,2.85,2.95,3.05,3.25,3.35,3.45,3.55,3.65,3.85,3.95,4.05,4.35,4.55,5.05],
  [2018.97,2.75,2.85,3.05,3.15,3.25,3.35,3.55,3.65,3.75,3.85,4.05,4.25,4.45,4.75],
  [2019.03,2.55,2.75,2.85,2.95,3.05,3.15,3.25,3.35,3.45,3.45,3.55,3.65,3.75,3.85,3.95,4.05,4.15,4.35,4.55,4.85,5.35],
  [2019.07,2.65,2.75,2.95,3.05,3.15,3.25,3.35,3.35,3.45,3.55,3.65,3.75,3.85,3.95,4.15,4.25,4.45,4.65,5.05],
  [2019.12,2.55,2.65,2.85,2.95,3.05,3.15,3.25,3.35,3.45,3.55,3.55,3.65,3.75,3.95,4.05,4.25,4.35,4.75,5.45],
  [2019.18,2.45,2.75,2.85,2.95,3.05,3.15,3.25,3.25,3.35,3.45,3.55,3.65,3.75,3.85,3.95,4.15,4.35,4.55,4.95],
  [2019.22,2.65,2.75,2.85,3.05,3.15,3.25,3.35,3.45,3.45,3.55,3.65,3.75,3.85,4.05,4.15,4.25,4.45,4.85,5.25],
  [2019.27,2.55,2.65,2.85,2.95,3.05,3.15,3.25,3.35,3.35,3.45,3.55,3.65,3.75,3.85,3.95,4.05,4.25,4.45,4.65,5.05],
  [2019.33,2.45,2.65,2.75,2.95,3.05,3.15,3.15,3.25,3.35,3.45,3.55,3.65,3.65,3.75,3.85,4.05,4.15,4.35,4.75,5.55],
  [2019.37,2.55,2.75,2.85,2.95,3.05,3.15,3.25,3.35,3.45,3.55,3.55,3.65,3.75,3.95,4.05,4.25,4.45,4.65],
  [2019.42,2.65,2.75,2.85,3.05,3.15,3.25,3.35,3.35,3.45,3.55,3.65,3.75,3.85,3.95,4.15,4.35,4.55,4.95,5.35],
  [2019.47,2.45,2.55,2.75,2.95,3.05,3.15,3.25,3.35,3.45,3.45,3.55,3.65,3.75,3.85,4.05,4.25,4.45,4.75],
  [2019.52,2.55,2.75,2.85,2.95,3.05,3.15,3.25,3.25,3.35,3.45,3.55,3.65,3.75,3.85,3.95,4.15,4.35,4.65,5.15],
  [2019.57,2.65,2.75,2.85,3.05,3.15,3.25,3.35,3.45,3.55,3.55,3.65,3.75,3.85,4.05,4.15,4.35,4.55,4.85],
  [2019.62,2.55,2.65,2.85,2.95,3.05,3.15,3.25,3.35,3.45,3.55,3.65,3.75,3.95,4.05,4.25,4.45,4.95,5.45],
  [2019.68,2.65,2.75,2.95,3.05,3.15,3.25,3.35,3.45,3.55,3.65,3.75,3.85,3.95,4.15,4.35,4.65],
  [2019.72,2.55,2.75,2.85,2.95,3.05,3.25,3.35,3.45,3.55,3.65,3.75,3.85,4.05,4.25,4.55,5.05],
  [2019.77,2.65,2.85,2.95,3.05,3.15,3.25,3.35,3.55,3.65,3.75,3.85,4.05,4.25,4.45,4.85],
  [2019.83,2.75,2.85,3.05,3.15,3.25,3.45,3.55,3.65,3.85,3.95,4.15,4.45],
  [2019.88,2.65,2.85,2.95,3.15,3.25,3.35,3.45,3.65,3.75,3.95,4.25,4.65],
  [2019.92,2.55,2.75,3.05,3.15,3.35,3.45,3.55,3.75,3.85,4.05,4.35],
  [2019.97,2.65,2.85,2.95,3.05,3.25,3.35,3.55,3.65,3.85,4.15,4.55],
  [2020.03,2.75,2.95,3.05,3.25,3.35,3.45,3.65,3.75,3.95,4.25],
  [2020.07,2.85,3.05,3.15,3.35,3.55,3.75,4.05]
];

document.addEventListener('DOMContentLoaded', function() {
    const points = [];
    [earlyStructures, middleStructures, recentLowRes].forEach(list => {
        list.forEach(p => points.push({ x: p[0], y: p[1] }));
    });
    [crowdedColumns, crowdedColumnsB].forEach(cols => {
        cols.forEach(col => {
            col.slice(1).forEach(r => points.push({ x: col[0], y: r }));
        });
    });

    const toXY = (xs, ys) => xs.map((x, i) => ({ x: x, y: ys[i] }));

    const isMajorX = v => xMajorTicks.includes(v);
    const isMajorY = v => yMajorTicks.includes(v);
    const tickFont = { family: 'DejaVu Sans Mono', size: 13 };
    const titleFont = { family: 'Liberation Mono', size: 18.7, lineHeight: 1 };

    // full panel border like theme_bw
    const panelBorder = {
        id: 'panelBorder',
        afterDatasetsDraw(chart) {
            const { ctx, chartArea: a } = chart;
            ctx.save();
            ctx.strokeStyle = '#333333';
            ctx.lineWidth = 1;
            ctx.strokeRect(a.left + 0.5, a.top + 0.5, a.right - a.left - 1, a.bottom - a.top - 1);
            ctx.restore();
        }
    };

    const ctx = document.getElementById('emChart').getContext('2d');
    new Chart(ctx, {
        type: 'scatter',
        data: {
            datasets: [
                {
                    type: 'line',
                    label: 'fit',
                    data: toXY(fitDates, fitValues),
                    borderColor: '#3366FF',
                    borderWidth: 3.5,
                    pointRadius: 0,
                    fill: false,
                    tension: 0,
                    order: 1
                },
                {
                    type: 'line',
                    label: 'upper',
                    data: toXY(fitDates, fitUpper),
                    borderWidth: 0,
                    borderColor: 'rgba(0,0,0,0)',
                    pointRadius: 0,
                    fill: false,
                    tension: 0,
                    order: 2
                },
                {
                    type: 'line',
                    label: 'lower',
                    data: toXY(fitDates, fitLower),
                    borderWidth: 0,
                    borderColor: 'rgba(0,0,0,0)',
                    backgroundColor: 'rgba(153,153,153,0.45)',
                    pointRadius: 0,
                    fill: '-1',
                    tension: 0,
                    order: 2
                },
                {
                    label: 'resolution',
                    data: points,
                    pointRadius: 3.6,
                    pointBackgroundColor: 'rgba(0,0,0,0.12)',
                    pointBorderColor: 'rgba(0,0,0,0.12)',
                    pointBorderWidth: 0.8,
                    order: 3
                }
            ]
        },
        options: {
            responsive: false,
            animation: false,
            events: [],
            layout: { autoPadding: false, padding: { top: 0, left: 0, right: 1, bottom: 0 } },
            plugins: {
                legend: { display: false },
                tooltip: { enabled: false },
                title: {
                    display: true,
                    fullSize: false,
                    text: 'Resolution of EM Structures Over Time',
                    color: '#000000',
                    font: { family: 'Liberation Mono', size: 22.9, weight: 'normal', lineHeight: 1.2 },
                    padding: { top: 3.5, bottom: 7 }
                }
            },
            scales: {
                x: {
                    type: 'linear',
                    min: 1999.11,
                    max: 2021.02,
                    afterBuildTicks: s => {
                        s.ticks = xMajorTicks.concat(xMinorTicks).sort((a, b) => a - b).map(v => ({ value: v }));
                    },
                    afterFit: s => { s.height = 40; },
                    border: { display: false },
                    grid: {
                        color: c => isMajorX(c.tick.value) ? '#e6e6e6' : '#eeeeee',
                        lineWidth: c => isMajorX(c.tick.value) ? 1.6 : 1,
                        tickColor: c => isMajorX(c.tick.value) ? '#333333' : 'rgba(0,0,0,0)',
                        tickLength: 5,
                        tickWidth: 1
                    },
                    ticks: {
                        autoSkip: false,
                        maxRotation: 0,
                        padding: 3,
                        color: '#4d4d4d',
                        font: tickFont,
                        callback: v => isMajorX(v) ? String(v) : ''
                    },
                    title: {
                        display: true,
                        text: 'date',
                        color: '#000000',
                        font: titleFont,
                        padding: { top: 0, bottom: 0 }
                    }
                },
                y: {
                    type: 'linear',
                    min: -1.0,
                    max: 20.98,
                    afterBuildTicks: s => {
                        s.ticks = yMajorTicks.concat(yMinorTicks).sort((a, b) => a - b).map(v => ({ value: v }));
                    },
                    afterFit: s => { s.width = 60; },
                    border: { display: false },
                    grid: {
                        color: c => isMajorY(c.tick.value) ? '#e6e6e6' : '#eeeeee',
                        lineWidth: c => isMajorY(c.tick.value) ? 1.6 : 1,
                        tickColor: c => isMajorY(c.tick.value) ? '#333333' : 'rgba(0,0,0,0)',
                        tickLength: 5,
                        tickWidth: 1
                    },
                    ticks: {
                        autoSkip: false,
                        padding: 4,
                        color: '#4d4d4d',
                        font: tickFont,
                        callback: v => isMajorY(v) ? String(v) : ''
                    },
                    title: {
                        display: true,
                        text: 'resolution',
                        color: '#000000',
                        font: titleFont,
                        padding: { top: 10.5, bottom: 0 }
                    }
                }
            }
        },
        plugins: [panelBorder]
    });
});
</script>
</body>
</html>
